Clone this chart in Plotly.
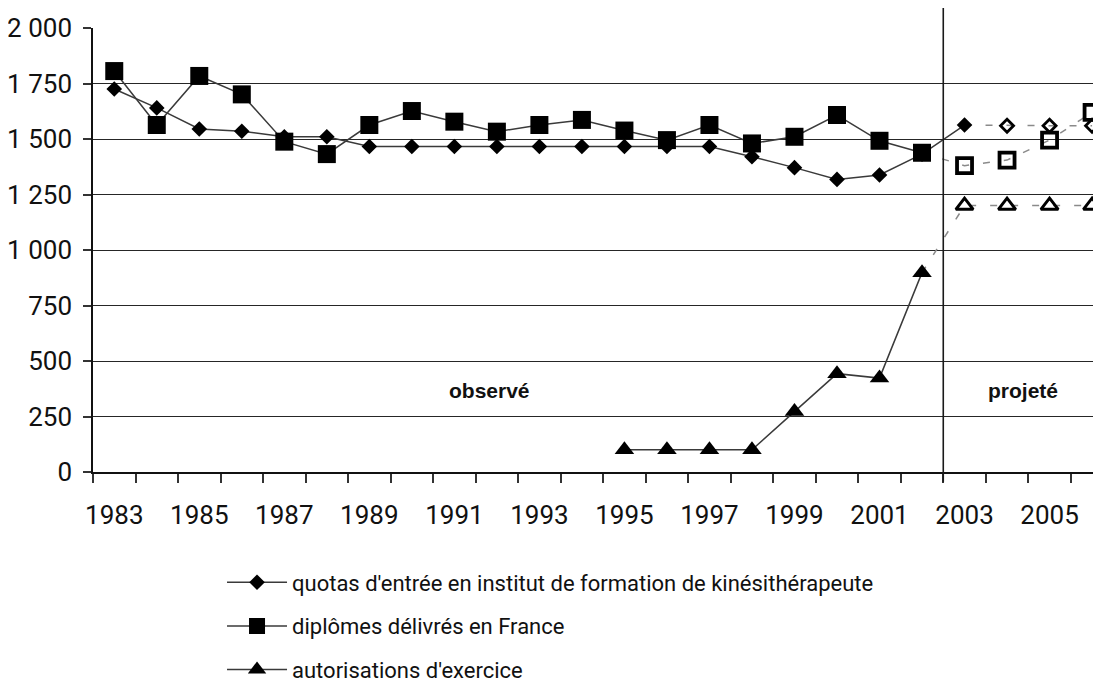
import plotly.graph_objects as go

# ---------------- data ----------------
years_quota_obs = [1983, 1984, 1985, 1986, 1987, 1988, 1989, 1990, 1991, 1992, 1993,
                   1994, 1995, 1996, 1997, 1998, 1999, 2000, 2001, 2002, 2003]
quota_obs = [1725, 1640, 1545, 1535, 1510, 1510, 1466, 1466, 1466, 1466, 1466,
             1466, 1466, 1466, 1466, 1420, 1371, 1318, 1338, 1432, 1563]
years_quota_proj = [2004, 2005, 2006]
quota_proj = [1560, 1560, 1560]

years_dipl_obs = [1983, 1984, 1985, 1986, 1987, 1988, 1989, 1990, 1991, 1992,
                  1993, 1994, 1995, 1996, 1997, 1998, 1999, 2000, 2001, 2002]
dipl_obs = [1806, 1563, 1784, 1701, 1488, 1432, 1563, 1626, 1578, 1533,
            1563, 1586, 1538, 1495, 1563, 1480, 1510, 1608, 1492, 1438]
years_dipl_proj = [2003, 2004, 2005, 2006]
dipl_proj = [1380, 1405, 1495, 1620]

years_aut_obs = [1995, 1996, 1997, 1998, 1999, 2000, 2001, 2002]
aut_obs = [100, 100, 100, 100, 272, 443, 423, 898]
years_aut_proj = [2003, 2004, 2005, 2006]
aut_proj = [1200, 1200, 1200, 1200]

series_names = ["quotas d'entrée en institut de formation de kinésithérapeute",
                "diplômes délivrés en France",
                "autorisations d'exercice"]

y_tickvals = [0, 250, 500, 750, 1000, 1250, 1500, 1750, 2000]
y_ticktext = ["0", "250", "500", "750", "1 000", "1 250", "1 500", "1 750", "2 000"]
x_tickvals = [1983, 1985, 1987, 1989, 1991, 1993, 1995, 1997, 1999, 2001, 2003, 2005]
x_ticktext = ["1983", "1985", "1987", "1989", "1991", "1993", "1995", "1997",
              "1999", "2001", "2003", "2005"]
period_labels = ["observé", "projeté"]
split_year = 2002.5

# ---------------- style ----------------
FONT = "Roboto, Liberation Sans, sans-serif"
LINE_C = "#3a3a3a"
GRID_C = "#262626"
DASH_C = "#8a8a8a"

fig = go.Figure()

obs_specs = [
    (years_quota_obs, quota_obs, "diamond", 12, "g1"),
    (years_dipl_obs, dipl_obs, "square", 18, "g2"),
    (years_aut_obs, aut_obs, "triangle-up", 17, "g3"),
]
proj_specs = [
    ([years_quota_obs[-1]] + years_quota_proj, [quota_obs[-1]] + quota_proj,
     years_quota_proj, quota_proj, "diamond-open", 10, 2.8),
    ([years_dipl_obs[-1]] + years_dipl_proj, [dipl_obs[-1]] + dipl_proj,
     years_dipl_proj, dipl_proj, "square-open", 15, 3.8),
    ([years_aut_obs[-1]] + years_aut_proj, [aut_obs[-1]] + aut_proj,
     years_aut_proj, aut_proj, "triangle-up-open", 15, 3),
]

# projected dashed connectors (under markers)
for lx, ly, mx, my, sym, sz, lw in proj_specs:
    fig.add_trace(go.Scatter(x=lx, y=ly, mode="lines", showlegend=False,
                             line=dict(color=DASH_C, width=1.5, dash="7px,14px"),
                             hoverinfo="skip"))

for (x, y, sym, sz, grp), name in zip(obs_specs, series_names):
    fig.add_trace(go.Scatter(x=x, y=y, name=name, mode="lines+markers",
                             legendgroup=grp,
                             line=dict(color=LINE_C, width=1.5),
                             marker=dict(symbol=sym, size=sz, color="black",
                                         line=dict(width=0)),
                             cliponaxis=False))

for lx, ly, mx, my, sym, sz, lw in proj_specs:
    fig.add_trace(go.Scatter(x=mx, y=my, mode="markers", showlegend=False,
                             marker=dict(symbol=sym, size=sz, color="black",
                                         line=dict(color="black", width=lw)),
                             cliponaxis=False))

# vertical separator observed / projected
fig.add_shape(type="line", xref="x", yref="paper", x0=split_year, x1=split_year,
              y0=-0.022, y1=1.08, line=dict(color="#1a1a1a", width=1.6))

for txt, xv in zip(period_labels, [1991.83, 2004.37]):
    fig.add_annotation(x=xv, y=369, xref="x", yref="y", text="<b>" + txt + "</b>",
                       showarrow=False,
                       font=dict(family="Liberation Sans, Arial, sans-serif", size=21,
                                 color="#111"))

# page body has an 8px margin: figure is shifted by 8px, so compensate
fig.update_layout(
    width=1093, height=675, autosize=False,
    margin=dict(l=85, r=0, t=20, b=211, pad=0),
    paper_bgcolor="white", plot_bgcolor="white",
    font=dict(family=FONT, size=22, color="#111"),
    showlegend=True,
    legend=dict(orientation="v", x=0.128, y=0.180, xref="paper", yref="container",
                xanchor="left", yanchor="top",
                font=dict(family=FONT, size=22, color="#111"),
                tracegroupgap=12, itemwidth=60, bgcolor="rgba(0,0,0,0)"),
    xaxis=dict(range=[1982.5, 2006.21], tickmode="array", tickvals=x_tickvals,
               ticktext=x_ticktext, ticks="outside", ticklen=0,
               tickcolor="rgba(0,0,0,0)",
               minor=dict(tickmode="linear", tick0=1982.5, dtick=1, ticks="outside",
                          ticklen=9, tickwidth=1.5, tickcolor="#333", showgrid=False),
               showline=True, linecolor="#111", linewidth=1.6, showgrid=False,
               zeroline=False, ticklabelstandoff=19,
               tickfont=dict(family=FONT, size=26, color="#111")),
    yaxis=dict(range=[0, 2000], tickmode="array", tickvals=y_tickvals,
               ticktext=y_ticktext, ticks="outside", ticklen=8, tickwidth=1.5,
               tickcolor="#333", showline=True, linecolor="#111", linewidth=1.6,
               showgrid=True, gridcolor=GRID_C, gridwidth=1.4, zeroline=False,
               ticklabelstandoff=6,
               tickfont=dict(family=FONT, size=26, color="#111")),
)

fig.write_html("out.html")
